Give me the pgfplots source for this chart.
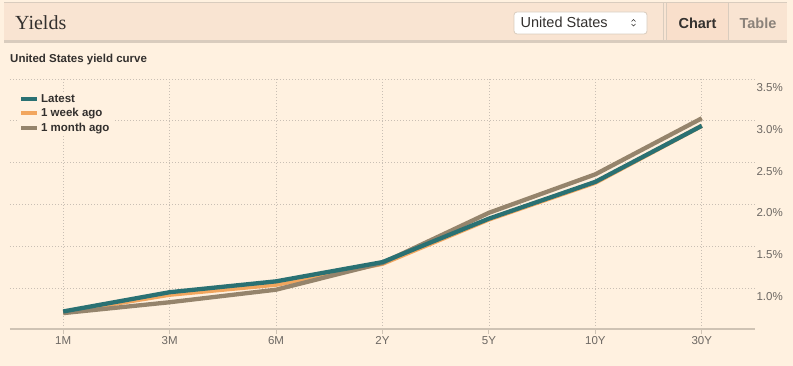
\documentclass[border=0pt]{standalone}
\usepackage{pgfplots}
\pgfplotsset{compat=1.18}
\usepackage{fontspec}
\setmainfont{Liberation Sans}
\newfontfamily\seriffont{Liberation Serif}
\definecolor{bg}{HTML}{FFF1E0}
\definecolor{hdr}{HTML}{F9E4D2}
\definecolor{tab}{HTML}{F9DFCB}
\definecolor{border}{HTML}{D9CCBE}
\definecolor{teal}{HTML}{2A7173}
\definecolor{orng}{HTML}{F2A65E}
\definecolor{brwn}{HTML}{95846C}
\definecolor{gridc}{HTML}{C9BFB4}
\definecolor{axisc}{HTML}{CFC3B4}
\definecolor{tickc}{HTML}{6D6863}
\definecolor{dark}{HTML}{33302E}
\definecolor{graytab}{HTML}{8B827A}
\begin{document}
\begin{tikzpicture}
\useasboundingbox (0bp,0bp) rectangle (793bp,366bp);
\fill[bg] (0bp,0bp) rectangle (793bp,366bp);
% header
\fill[hdr] (4bp,325bp) rectangle (787bp,363bp);
\fill[tab] (667bp,325bp) rectangle (728bp,363bp);
\draw[border, line width=1.5bp] (4bp,363.5bp) -- (787bp,363.5bp);
\draw[border, line width=2.5bp] (4bp,324.5bp) -- (787bp,324.5bp);
\draw[border, line width=0.8bp] (663bp,325bp) -- (663bp,363bp);
\draw[border, line width=0.8bp] (666bp,325bp) -- (666bp,363bp);
\draw[border, line width=0.8bp] (728bp,325bp) -- (728bp,363bp);
\node[anchor=base west, inner sep=0pt, text=dark] at (15bp,336.5bp) {\seriffont\fontsize{20bp}{24bp}\selectfont Yields};
\draw[fill=white, draw=border, rounded corners=3bp, line width=0.8bp] (514bp,332bp) rectangle (647bp,354bp);
\node[anchor=base west, inner sep=0pt, text=dark] at (520.5bp,338.7bp) {\fontsize{14.5bp}{17bp}\selectfont United States};
\draw[dark, line width=0.6bp] (631.5bp,344.5bp) -- (633.5bp,346.5bp) -- (635.5bp,344.5bp);
\draw[dark, line width=0.6bp] (631.5bp,342bp) -- (633.5bp,340bp) -- (635.5bp,342bp);
\node[anchor=base, inner sep=0pt, text=dark] at (697.5bp,337bp) {\fontsize{14.5bp}{17bp}\selectfont\bfseries Chart};
\node[anchor=base, inner sep=0pt, text=graytab] at (758bp,337bp) {\fontsize{14.5bp}{17bp}\selectfont\bfseries Table};
\node[anchor=base west, inner sep=0pt, text=dark] at (10bp,303bp) {\fontsize{11.5bp}{13bp}\selectfont\bfseries United States yield curve};
\begin{axis}[
  at={(10bp,37bp)}, anchor=south west,
  scale only axis, width=745bp, height=250bp,
  xmin=-0.5, xmax=6.5, ymin=0.51, ymax=3.5,
  xtick={0,1,2,3,4,5,6},
  xticklabels={1M,3M,6M,2Y,5Y,10Y,30Y},
  ytick={1,1.5,2,2.5,3,3.5},
  yticklabels={1.0\%,1.5\%,2.0\%,2.5\%,3.0\%,3.5\%},
  yticklabel pos=right,
  xtick pos=bottom,
  tick align=outside,
  major tick length=5bp,
  x tick style={draw=axisc, line width=1bp},
  y tick style={draw=none},
  grid=major,
  major grid style={gridc, line width=0.8bp, dash pattern=on 1bp off 2bp},
  axis line style={draw=none},
  tick label style={font=\fontsize{11.5bp}{13bp}\selectfont, text=tickc},
  yticklabel style={anchor=north west, xshift=-7bp, yshift=-1bp},
  xticklabel style={yshift=1bp},
  clip=false,
  legend cell align=left,
  legend style={at={(0.0107,0.95)}, anchor=north west, fill=bg, draw=none,
    font=\fontsize{11.5bp}{12bp}\selectfont\bfseries, text=dark,
    row sep=0.5bp, inner sep=1bp},
  legend image code/.code={\draw[#1, line width=4bp] (0bp,0bp) -- (16bp,0bp);},
]
\draw[axisc, line width=2bp] (rel axis cs:0,0) -- (rel axis cs:1,0);
\addlegendimage{teal}
\addlegendentry{Latest}
\addlegendimage{orng}
\addlegendentry{1 week ago}
\addlegendimage{brwn}
\addlegendentry{1 month ago}
\addplot[orng, line width=4.3bp, line join=round, forget plot] coordinates {
 (0,0.71) (1,0.92) (2,1.04) (3,1.29) (4,1.82) (5,2.26) (6,2.94)};
\addplot[brwn, line width=4.3bp, line join=round, forget plot] coordinates {
 (0,0.70) (1,0.83) (2,0.98) (3,1.30) (4,1.90) (5,2.36) (6,3.03)};
\addplot[teal, line width=4.3bp, line join=round, forget plot] coordinates {
 (0,0.72) (1,0.95) (2,1.08) (3,1.31) (4,1.83) (5,2.27) (6,2.94)};
\end{axis}
\end{tikzpicture}
\end{document}
